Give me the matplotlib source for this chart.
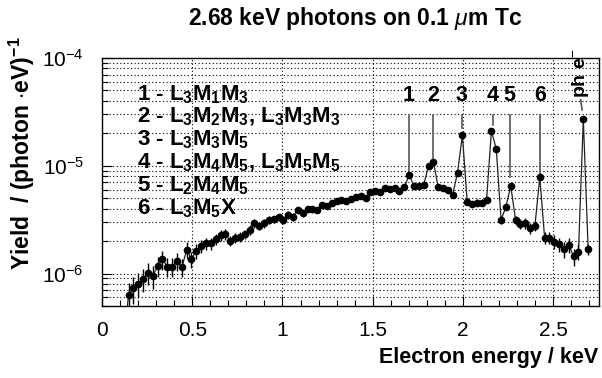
import numpy as np
import matplotlib
matplotlib.use("Agg")
import matplotlib.pyplot as plt
from matplotlib.ticker import MultipleLocator, LogLocator, NullFormatter

plt.rcParams['font.family'] = ['Liberation Sans', 'DejaVu Sans']
plt.rcParams['mathtext.fontset'] = 'custom'
plt.rcParams['mathtext.rm'] = 'Liberation Sans'
plt.rcParams['mathtext.bf'] = 'Liberation Sans:bold'
plt.rcParams['mathtext.it'] = 'Liberation Sans:italic'

# histogram binning (keV): first filled bin index and bin width
bin_width = 0.0268
first_bin = 4

# yield per bin, photon^-1 eV^-1 (first value lies below the axis)
yield_vals = [
    2.5e-7, 6.33e-7, 7.30e-7, 7.96e-7, 8.91e-7, 1.02e-6, 9.50e-7, 1.18e-6,
    1.36e-6, 1.16e-6, 1.16e-6, 1.31e-6, 1.14e-6, 1.66e-6, 1.36e-6, 1.62e-6,
    1.80e-6, 1.91e-6, 1.91e-6, 2.09e-6, 2.28e-6, 2.32e-6, 2.02e-6, 2.15e-6,
    2.20e-6, 2.33e-6, 2.54e-6, 2.93e-6, 2.76e-6, 2.93e-6, 3.14e-6, 3.19e-6,
    3.33e-6, 3.14e-6, 3.50e-6, 3.37e-6, 3.89e-6, 3.63e-6, 3.97e-6, 3.95e-6,
    3.89e-6, 4.33e-6, 4.24e-6, 4.52e-6, 4.75e-6, 4.82e-6, 4.69e-6, 4.92e-6,
    5.17e-6, 5.19e-6, 5.03e-6, 5.75e-6, 5.78e-6, 5.75e-6, 6.18e-6, 6.09e-6,
    6.22e-6, 5.84e-6, 6.29e-6, 8.22e-6, 6.50e-6, 6.50e-6, 6.64e-6, 9.96e-6,
    1.09e-5, 6.36e-6, 6.22e-6, 6.00e-6, 5.39e-6, 8.63e-6, 1.92e-5, 4.65e-6,
    4.42e-6, 4.55e-6, 4.55e-6, 4.82e-6, 2.10e-5, 1.44e-5, 3.14e-6, 4.17e-6,
    6.50e-6, 3.12e-6, 2.88e-6, 2.93e-6, 2.63e-6, 2.78e-6, 7.82e-6, 2.15e-6,
    2.15e-6, 1.98e-6, 1.87e-6, 1.68e-6, 1.84e-6, 1.44e-6, 1.60e-6, 2.70e-5,
    1.68e-6,
]

# relative statistical error per bin
rel_err = [
    0.30, 0.30, 0.28, 0.26, 0.25, 0.24, 0.24, 0.22,
    0.20, 0.20, 0.20, 0.19, 0.19, 0.17, 0.17, 0.15,
    0.14, 0.13, 0.13, 0.12, 0.12, 0.11, 0.11, 0.11,
    0.10, 0.10, 0.10, 0.09, 0.09, 0.09, 0.09, 0.08,
    0.08, 0.08, 0.08, 0.08, 0.07, 0.07, 0.07, 0.07,
    0.07, 0.07, 0.06, 0.06, 0.06, 0.06, 0.06, 0.06,
    0.06, 0.06, 0.06, 0.05, 0.05, 0.05, 0.05, 0.05,
    0.05, 0.05, 0.05, 0.04, 0.05, 0.05, 0.05, 0.04,
    0.04, 0.05, 0.05, 0.05, 0.06, 0.04, 0.03, 0.07,
    0.07, 0.07, 0.07, 0.07, 0.03, 0.03, 0.09, 0.07,
    0.05, 0.10, 0.11, 0.11, 0.12, 0.11, 0.05, 0.13,
    0.13, 0.14, 0.15, 0.17, 0.15, 0.18, 0.17, 0.03,
    0.12,
]

energy = (first_bin + np.arange(len(yield_vals)) + 0.5) * bin_width
yield_vals = np.array(yield_vals)
yerr = yield_vals * np.array(rel_err)

# peak labels: text, x position (keV), lower end of the marker line
peak_names = ['1', '2', '3', '4', '5', '6']
peak_x = [1.699, 1.835, 1.992, 2.164, 2.258, 2.427]
peak_line_end = [8.6e-6, 1.18e-5, 2.24e-5, 2.39e-5, 7.9e-6, 8.2e-6]

transitions = [
    r"1 - L$_\mathbf{3}$M$_\mathbf{1}$M$_\mathbf{3}$",
    r"2 - L$_\mathbf{3}$M$_\mathbf{2}$M$_\mathbf{3}$, L$_\mathbf{3}$M$_\mathbf{3}$M$_\mathbf{3}$",
    r"3 - L$_\mathbf{3}$M$_\mathbf{3}$M$_\mathbf{5}$",
    r"4 - L$_\mathbf{3}$M$_\mathbf{4}$M$_\mathbf{5}$, L$_\mathbf{3}$M$_\mathbf{5}$M$_\mathbf{5}$",
    r"5 - L$_\mathbf{2}$M$_\mathbf{4}$M$_\mathbf{5}$",
    r"6 - L$_\mathbf{3}$M$_\mathbf{5}$X",
]

W, H = 602, 378
fig = plt.figure(figsize=(W / 100, H / 100), dpi=100)
ax = fig.add_axes([102 / W, 1 - 306 / H, 497 / W, 248 / H])

ax.set_yscale('log')
ax.set_xlim(0, 2.7535)
ax.set_ylim(5e-7, 1e-4)

# grid: verticals at major x, horizontals at every step of each decade
for xv in np.arange(0.5, 2.6, 0.5):
    ax.axvline(xv, color='black', lw=0.8, ls=(0, (1, 2.2)), zorder=0)
for dec in [1e-7, 1e-6, 1e-5]:
    for m in range(1, 10):
        yv = m * dec
        if 5e-7 < yv < 1e-4:
            ax.axhline(yv, color='black', lw=0.8, ls=(0, (1, 2.2)), zorder=0)

ax.errorbar(energy, yield_vals, yerr=yerr, fmt='o', color='black',
            ms=4.5, elinewidth=1.0, capsize=0, zorder=3)
ax.plot(energy, yield_vals, color='#222222', lw=0.9, zorder=2)

for name, xp, yend in zip(peak_names, peak_x, peak_line_end):
    ax.plot([xp, xp], [2.96e-5, yend], color='#555555', lw=1.2, zorder=2)
    ax.text(xp, 4.0e-5, name, ha='center', va='baseline',
            fontsize=15.5, fontweight='bold')

ax.plot([2.652, 2.66], [4.1e-5, 3.3e-5], color='#555555', lw=1.2)
ax.text(2.652, 4.3e-5, r"ph e$^{-}$", rotation=90, ha='center', va='bottom',
        fontsize=14, fontweight='bold', clip_on=False)

for i, t in enumerate(transitions):
    fig.text(137 / W, 1 - (100 + 22.8 * i) / H, t, ha='left', va='baseline',
             fontsize=16, fontweight='bold')

ax.xaxis.set_major_locator(MultipleLocator(0.5))
ax.xaxis.set_minor_locator(MultipleLocator(0.1))
ax.xaxis.set_major_formatter(plt.FuncFormatter(lambda v, p: f"{v:g}"))
ax.yaxis.set_major_locator(LogLocator(base=10))
ax.yaxis.set_minor_locator(LogLocator(base=10, subs=np.arange(2, 10)))
ax.yaxis.set_minor_formatter(NullFormatter())
ax.tick_params(which='both', direction='in', labelsize=15)
ax.tick_params(which='major', length=7, width=0.8)
ax.tick_params(which='minor', length=4, width=0.8)
ax.tick_params(axis='x', pad=11)
ax.tick_params(axis='y', pad=13)
for s in ax.spines.values():
    s.set_linewidth(1.0)

fig.text(355 / W, 1 - 19 / H, r"2.68 keV photons on 0.1 $\mu$m Tc", ha='center', va='center',
         fontsize=16.5, fontweight='bold')
fig.text(598 / W, 1 - 357 / H, "Electron energy / keV", ha='right', va='center',
         fontsize=15.5, fontweight='bold')
fig.text(22 / W, 1 - 36 / H, r"Yield  / (photon $\cdot$eV)$^{\mathbf{-1}}$", rotation=90,
         ha='center', va='top', fontsize=16.5, fontweight='bold')

fig.savefig("out.png", dpi=100)
